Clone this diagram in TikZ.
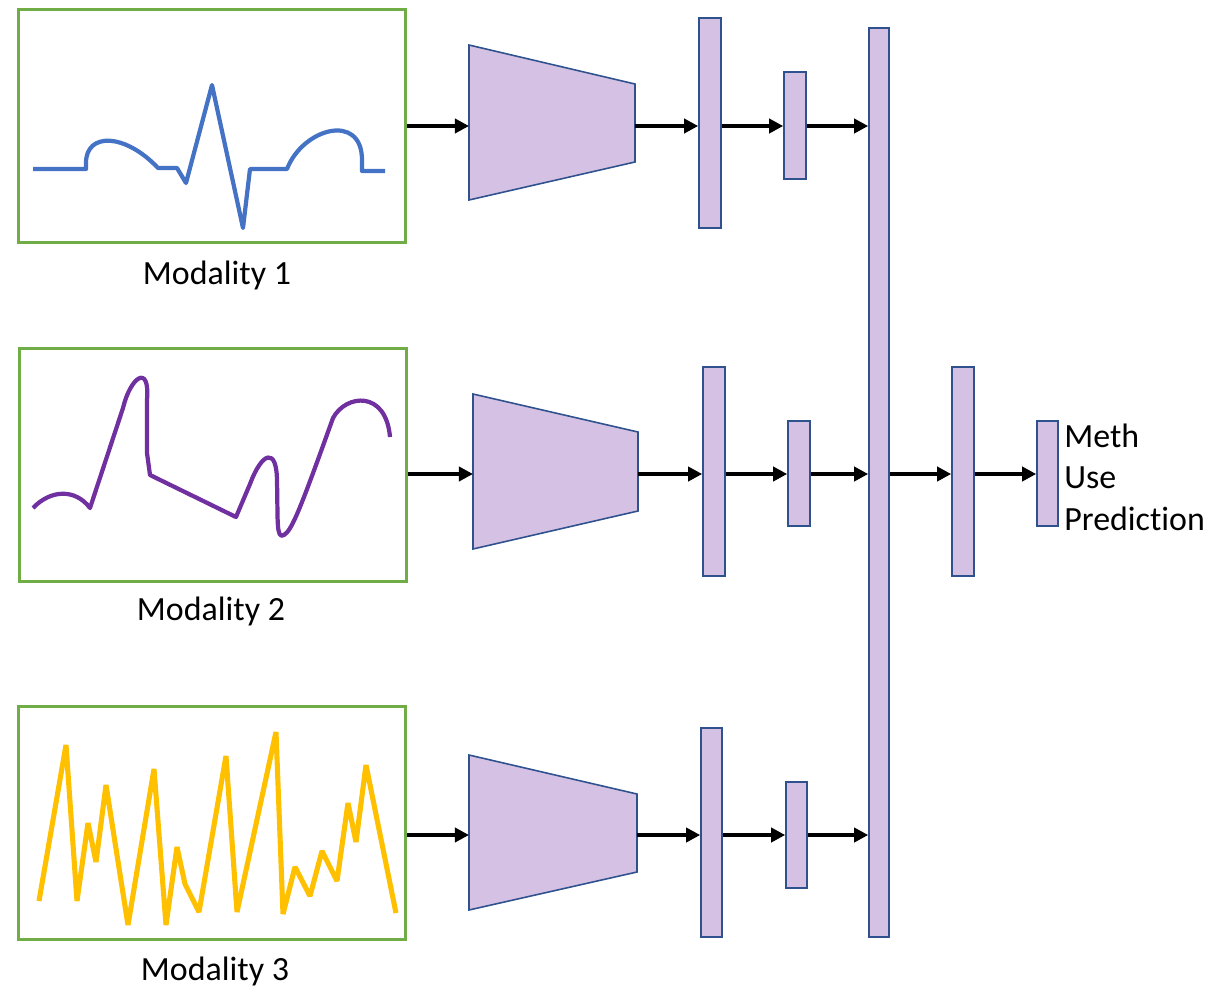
\documentclass[tikz,border=0pt]{standalone}
\usepackage{fontspec}
\setmainfont[Ligatures={NoCommon}]{Carlito}
\usetikzlibrary{arrows.meta,calc}

\definecolor{framegreen}{RGB}{112,173,71}
\definecolor{layerfill}{RGB}{213,193,228}
\definecolor{layeredge}{RGB}{47,82,143}
\definecolor{sigblue}{RGB}{68,114,196}
\definecolor{sigpurple}{RGB}{112,48,160}
\definecolor{sigyellow}{RGB}{255,192,0}

\tikzset{
  frame/.style={draw=framegreen, line width=2pt, minimum width=7.74cm, minimum height=4.66cm, inner sep=0pt},
  layer/.style={draw=layeredge, fill=layerfill, line width=0.9pt, inner sep=0pt},
  encoder/.style={draw=layeredge, fill=layerfill, line width=0.9pt},
  arr/.style={-{Triangle[length=8pt,width=8pt]}, line width=2.2pt, black},
  caption/.style={font=\fontsize{19.3}{23.6}\selectfont, inner sep=0pt},
  signal/.style={line width=2.4pt, line join=round}
}

\begin{document}
\begin{tikzpicture}[x=0.02cm, y=-0.02cm]
\useasboundingbox (0,0) rectangle (1215,988);

% input frames
\node[frame] (m1) at (212,126) {};
\node[frame] (m2) at (213,465) {};
\node[frame] (m3) at (212,823) {};

\node[caption, anchor=base] (c1) at (217,284) {Modality 1};
\node[caption, anchor=base] (c2) at (211,620) {Modality 2};
\node[caption, anchor=base] (c3) at (215,980) {Modality 3};

% signal 1: ECG-like trace
\draw[signal, sigblue]
  (33,169) -- (86,169) -- (86,163)
  .. controls (86,132) and (125,133) .. (158,168)
  -- (177,168) -- (186,183) -- (212,85) -- (243,228) -- (250,169) -- (287,169)
  .. controls (303,128) and (362,112) .. (362,160)
  -- (362,171) -- (385,171);

% signal 2: smooth irregular trace
\draw[signal, sigpurple]
  (33,508) .. controls (50,490) and (75,488) .. (90,508)
  -- (123,408) .. controls (130,378) and (150,362) .. (147,400)
  -- (147,453) -- (150,475) -- (236,517) -- (250,484)
  .. controls (262,452) and (277,446) .. (277,482)
  .. controls (278,520) and (276,540) .. (284,535)
  .. controls (292,530) and (300,510) .. (333,418)
  .. controls (346,394) and (386,390) .. (390,437);

% signal 3: noisy spikes
\draw[signal, sigyellow, line width=2.9pt, line join=bevel]
  (39,901) -- (66,745) -- (77,901) -- (88,823) -- (96,862) -- (106,785)
  -- (128,925) -- (154,769) -- (166,925) -- (177,847) -- (185,884)
  -- (199,912) -- (226,756) -- (237,912) -- (276,732) -- (283,914)
  -- (295,867) -- (310,896) -- (322,851) -- (337,881) -- (348,803)
  -- (356,842) -- (366,765) -- (396,913);

% encoders
\draw[encoder] (469,45) -- (635,84) -- (635,162) -- (469,200) -- cycle;
\draw[encoder] (473,394) -- (638,432) -- (638,511) -- (473,549) -- cycle;
\draw[encoder] (469,755) -- (637,794) -- (637,872) -- (469,910) -- cycle;
\coordinate (t1in) at (469,126);
\coordinate (t1out) at (635,126);
\coordinate (t2in) at (473,474);
\coordinate (t2out) at (638,474);
\coordinate (t3in) at (469,835);
\coordinate (t3out) at (637,835);

% feature layers
\node[layer, minimum width=0.44cm, minimum height=4.2cm]  (b11) at (710,123) {};
\node[layer, minimum width=0.44cm, minimum height=2.14cm] (b12) at (795,125.5) {};
\node[layer, minimum width=0.44cm, minimum height=4.18cm] (b21) at (714,471.5) {};
\node[layer, minimum width=0.44cm, minimum height=2.10cm] (b22) at (799,473.5) {};
\node[layer, minimum width=0.42cm, minimum height=4.18cm] (b31) at (711.5,832.5) {};
\node[layer, minimum width=0.42cm, minimum height=2.12cm] (b32) at (796.5,835) {};

% fusion layer and head
\node[layer, minimum width=0.40cm, minimum height=18.18cm] (fuse) at (879,482.5) {};
\node[layer, minimum width=0.44cm, minimum height=4.18cm] (head) at (963,471.5) {};
\node[layer, minimum width=0.42cm, minimum height=2.10cm] (pred) at (1047.5,473.5) {};

\node[caption, anchor=base west] (plab) at (1064,447) {Meth};
\node[caption, anchor=base west] (plab2) at (1064,488.5) {Use};
\node[caption, anchor=base west] (plab3) at (1064,530) {Prediction};

% connections, row 1
\draw[arr] (m1.east |- t1in) -- (t1in);
\draw[arr] (t1out) -- (b11.west |- t1out);
\draw[arr] (b11.east |- t1out) -- (b12.west |- t1out);
\draw[arr] (b12.east |- t1out) -- (fuse.west |- t1out);

% connections, row 2
\draw[arr] (m2.east |- t2in) -- (t2in);
\draw[arr] (t2out) -- (b21.west |- t2out);
\draw[arr] (b21.east |- t2out) -- (b22.west |- t2out);
\draw[arr] (b22.east |- t2out) -- (fuse.west |- t2out);
\draw[arr] (fuse.east |- t2out) -- (head.west |- t2out);
\draw[arr] (head.east |- t2out) -- (pred.west |- t2out);

% connections, row 3
\draw[arr] (m3.east |- t3in) -- (t3in);
\draw[arr] (t3out) -- (b31.west |- t3out);
\draw[arr] (b31.east |- t3out) -- (b32.west |- t3out);
\draw[arr] (b32.east |- t3out) -- (fuse.west |- t3out);
\end{tikzpicture}
\end{document}
